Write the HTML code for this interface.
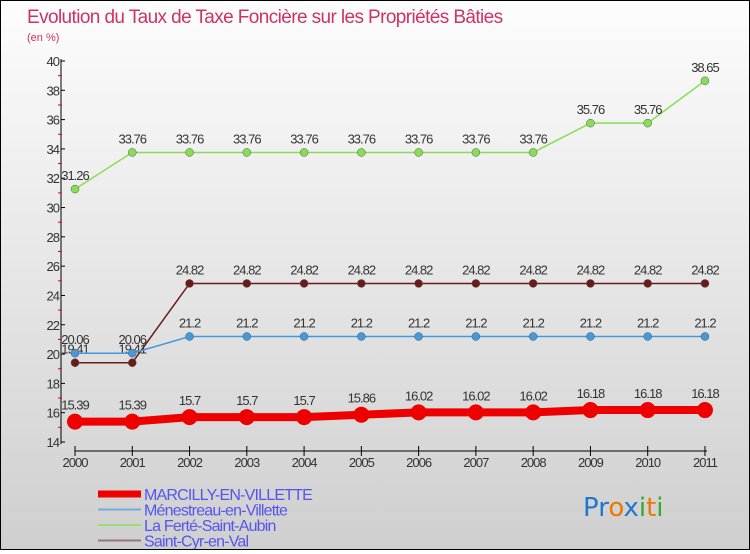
<!DOCTYPE html>
<html><head><meta charset="utf-8"><style>
body{margin:0;width:750px;height:550px;overflow:hidden}
#c{width:748px;height:548px;border:1px solid #000;background:linear-gradient(#fdfdfd,#cfcfcf);position:relative;font-family:"Liberation Sans",sans-serif}
</style></head><body>
<div id="c">
<svg id="s" width="748" height="548"></svg>
</div>
<script>
const years=["2000","2001","2002","2003","2004","2005","2006","2007","2008","2009","2010","2011"];
const marcilly=[15.39,15.39,15.7,15.7,15.7,15.86,16.02,16.02,16.02,16.18,16.18,16.18];
const menestreau=[20.06,20.06,21.2,21.2,21.2,21.2,21.2,21.2,21.2,21.2,21.2,21.2];
const ferte=[31.26,33.76,33.76,33.76,33.76,33.76,33.76,33.76,33.76,35.76,35.76,38.65];
const stcyr=[19.41,19.41,24.82,24.82,24.82,24.82,24.82,24.82,24.82,24.82,24.82,24.82];
const yTicks=[14,16,18,20,22,24,26,28,30,32,34,36,38,40];
const S=document.getElementById('s');const NS='http://www.w3.org/2000/svg';
function el(t,a,txt){const e=document.createElementNS(NS,t);for(const k in a)e.setAttribute(k,a[k]);if(txt!==undefined)e.textContent=txt;S.appendChild(e);return e;}
const X=i=>74+i*57.27, Y=v=>60+(40-v)*(381/26);
let t=el('text',{x:26,y:22,'font-size':19,fill:'#cc3366','letter-spacing':'-0.6'},'Evolution du Taux de Taxe Foncière sur les Propriétés Bâties');

t=el('text',{x:26,y:40,'font-size':11,fill:'#cc3366'},'(en %)');

let a=el('line',{x1:60,y1:58,x2:60,y2:443,stroke:'#000'});
a=el('line',{x1:74,y1:450,x2:706,y2:450,stroke:'#000'});
yTicks.forEach(v=>{const y=Y(v);
 let l=el('line',{x1:60,y1:y,x2:64,y2:y,stroke:'#000'});
 if(v<40){let m=el('line',{x1:57,y1:Y(v+1),x2:61,y2:Y(v+1),stroke:'#e00'});}
 let tt=el('text',{x:58,y:y+5,'font-size':13,fill:'#333','text-anchor':'end','letter-spacing':'-1'},v);});
years.forEach((yr,i)=>{let l=el('line',{x1:X(i),y1:445,x2:X(i),y2:455,stroke:'#000'});
 let tt=el('text',{x:X(i),y:466,'font-size':13,fill:'#333','text-anchor':'middle','letter-spacing':'-1'},yr);});
function series(d,col,w,r,name,lab){
 const p=el('polyline',{points:d.map((v,i)=>X(i)+','+Y(v)).join(' '),fill:'none',stroke:col,'stroke-width':w});
 
 d.forEach((v,i)=>{const c=el('circle',{cx:X(i),cy:Y(v),r:r,fill:col,stroke:'#555','stroke-width':r>5?0:0.5});
  
  if(lab){const tt=el('text',{x:X(i),y:Y(v)-(r>5?12:9),'font-size':13,fill:'#333','text-anchor':'middle','letter-spacing':'-1'},String(v));
  }});
}
series(ferte,'#88dd55',1.5,4,'ferte',true);
series(stcyr,'#6b1a1a',1.5,4,'stcyr',true);
series(menestreau,'#4499dd',1.5,4,'menestreau',true);
series(marcilly,'#ee0000',8,8,'marcilly',true);
const leg=[['MARCILLY-EN-VILLETTE','#ee0000',7],['Ménestreau-en-Villette','#77aadd',2],['La Ferté-Saint-Aubin','#99dd77',2],['Saint-Cyr-en-Val','#997777',2]];
leg.forEach((g,i)=>{const y=493+i*15.5;
 let l=el('line',{x1:97,y1:y,x2:140,y2:y,stroke:g[1],'stroke-width':g[2]});
 let tt=el('text',{x:143,y:y+6,'font-size':16,fill:'#5555ee','letter-spacing':'-0.8'},g[0]);});
const logo=el('text',{x:582,y:515,'font-size':26,'font-family':'DejaVu Sans',fill:'#2277cc'});

[['Pr','#2277cc'],['o','#ee7700'],['x','#2277cc'],['i','#33aa33'],['t','#ee7700'],['i','#33aa33']].forEach(p=>{const s=document.createElementNS(NS,'tspan');s.setAttribute('fill',p[1]);s.textContent=p[0];logo.appendChild(s);});
</script>
</body></html>
